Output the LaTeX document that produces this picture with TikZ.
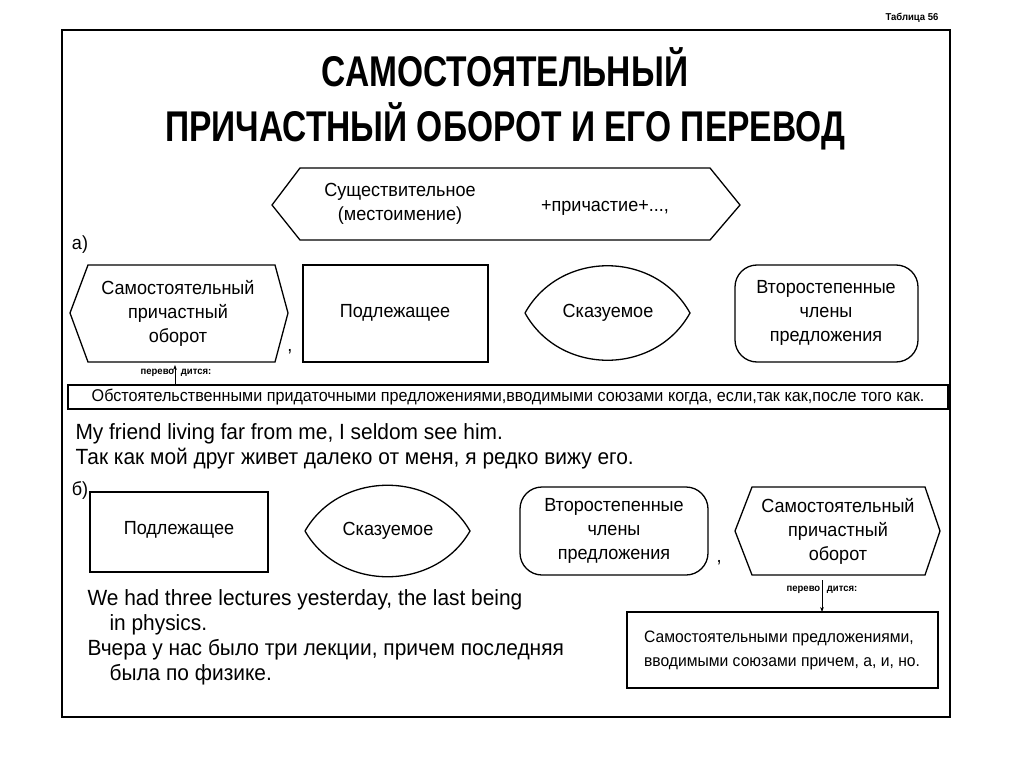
\documentclass[tikz,border=0pt]{standalone}
\usepackage{fontspec}
\setmainfont{Liberation Sans}[FakeStretch=0.95]
\newfontfamily\titlefont{Liberation Sans}[FakeStretch=0.78]
\usetikzlibrary{arrows.meta}
\tikzset{
  box/.style={draw, line width=1.3pt},
  txt/.style={font=\fontsize{19}{24}\selectfont, align=center},
  small/.style={font=\fontsize{10}{11}\selectfont\bfseries},
  plain/.style={font=\fontsize{22}{25}\selectfont, anchor=west, align=left},
}
\begin{document}
\begin{tikzpicture}[x=1pt,y=-1pt]
\useasboundingbox (0,0) rectangle (1024,767);
\fill[white] (0,0) rectangle (1024,767);
% frame and title
\draw[line width=1.5pt] (62,30) rectangle (950,717);
\node[small] (tab) at (912,18) {Таблица 56};
\node[font=\titlefont\fontsize{43}{55}\selectfont\bfseries, align=center] (title) at (505,99)
  {САМОСТОЯТЕЛЬНЫЙ\\ПРИЧАСТНЫЙ ОБОРОТ И ЕГО ПЕРЕВОД};
% formula
\draw[box] (272,205) -- (300,168) -- (710,168) -- (740,205) -- (710,240) -- (300,240) -- cycle;
\node[txt] (noun) at (400,204) {Существительное\\(местоимение)};
\node[txt] (part) at (605,208) {+причастие+...,};
% a)
\node[txt] (la) at (80,245) {а)};
\draw[box] (70,313) -- (88,265) -- (275,265) -- (288,313) -- (275,362) -- (88,362) -- cycle;
\node[txt] (a1) at (178,313) {Самостоятельный\\причастный\\оборот};
\node[txt] (ca) at (290,352) {,};
\draw[box] (303,265) rectangle (488,362);
\node[txt] (a2) at (395,313) {Подлежащее};
\draw[box] (525,313) .. controls (560,250) and (655,250) .. (690,313)
  .. controls (655,376) and (560,376) .. (525,313);
\node[txt] (a3) at (608,313) {Сказуемое};
\draw[box, rounded corners=22pt] (735,265) rectangle (918,362);
\node[txt] (a4) at (826,313) {Второстепенные\\члены\\предложения};
\node[small] (pa) at (176,373) {перево\,\,\,\,дится:};
\coordinate (pat) at (175,365);
\coordinate (pab) at (175,384);
\draw[-{Stealth[length=5pt]}, line width=0.8pt] (pab) -- (pat);
\draw[line width=1.3pt] (68,385) rectangle (948,409);
\node[font=\fontsize{17}{18}\selectfont] (ta) at (508,397)
  {Обстоятельственными придаточными предложениями,вводимыми союзами когда, если,так как,после того как.};
\node[plain] (ea) at (72,446) {My friend living far from me, I seldom see him.\\Так как мой друг живет далеко от  меня, я  редко вижу его.};
% b)
\node[txt] (lb) at (80,490) {б)};
\draw[box] (90,492) rectangle (268,572);
\node[txt] (b1) at (179,530) {Подлежащее};
\draw[box] (305,531) .. controls (340,470) and (435,470) .. (470,531)
  .. controls (435,592) and (340,592) .. (305,531);
\node[txt] (b2) at (388,531) {Сказуемое};
\draw[box, rounded corners=22pt] (520,487) rectangle (708,575);
\node[txt] (b3) at (614,531) {Второстепенные\\члены\\предложения};
\node[txt] (cb) at (719,563) {,};
\draw[box] (735,531) -- (752,487) -- (925,487) -- (940,531) -- (925,575) -- (752,575) -- cycle;
\node[txt] (b4) at (838,531) {Самостоятельный\\причастный\\оборот};
\node[small] (pb) at (822,590) {перево\,\,\,\,дится:};
\coordinate (pbt) at (822,580);
\coordinate (pbb) at (822,612);
\draw[-{Stealth[length=5pt]}, line width=0.8pt] (pbt) -- (pbb);
\draw[line width=1.3pt] (627,612) rectangle (938,688);
\node[font=\fontsize{16.5}{24}\selectfont, align=left] (tb) at (782,650) {Самостоятельными предложениями,\\вводимыми союзами причем, а, и, но.};
\node[plain] (eb) at (84,637) {We had  three lectures yesterday, the last being\\\quad in physics.\\Вчера у нас было три лекции, причем последняя\\\quad была по физике.};
\end{tikzpicture}
\end{document}
